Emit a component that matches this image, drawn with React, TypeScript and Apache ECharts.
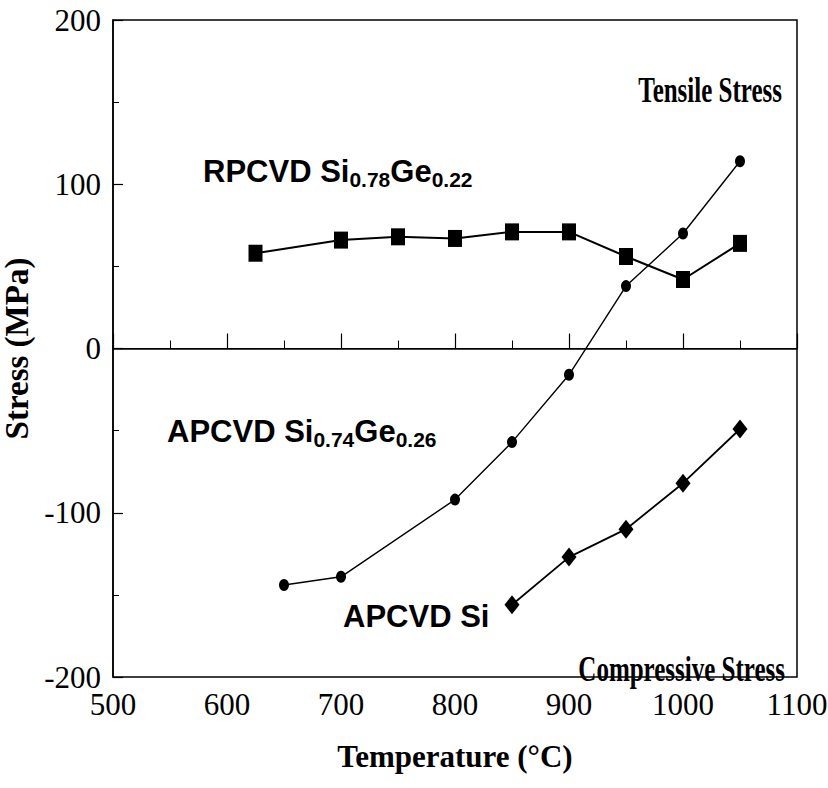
import React, { useEffect, useRef } from "react";
import * as echarts from "echarts";

const rpTemps = [625, 700, 750, 800, 850, 900, 950, 1000, 1050];
const rpStress = [58, 66, 68, 67, 71, 71, 56, 42, 64];
const sigeTemps = [650, 700, 800, 850, 900, 950, 1000, 1050];
const sigeStress = [-144, -139, -92, -57, -16, 38, 70, 114];
const siTemps = [850, 900, 950, 1000, 1050];
const siStress = [-156, -127, -110, -82, -49];

const xTicks = { min: 500, max: 1100, interval: 100 };
const yTicks = { min: -200, max: 200, interval: 100 };

const SERIF = "Liberation Serif";
const SANS = "Liberation Sans";

function pairs(xs: number[], ys: number[]) {
  return xs.map((x, i) => [x, ys[i]]);
}

function richLabel(main1: string, sub1: string, main2: string, sub2: string) {
  return `{m|${main1}}{s|${sub1}}{m|${main2}}{s|${sub2}}`;
}

const richStyles = {
  m: { fontFamily: SANS, fontWeight: "bold", fontSize: 31, fill: "#000", color: "#000", verticalAlign: "bottom", lineHeight: 36, padding: [0, 0, 3, 0] },
  s: { fontFamily: SANS, fontWeight: "bold", fontSize: 21, fill: "#000", color: "#000", verticalAlign: "bottom", lineHeight: 36 },
};

export default function App() {
  const ref = useRef<HTMLDivElement>(null);
  useEffect(() => {
    document.body.style.margin = "0";
    if (!ref.current) return;
    const chart = echarts.init(ref.current, null, { renderer: "svg" });
    chart.setOption({
      animation: false,
      backgroundColor: "#fff",
      textStyle: { fontFamily: "serif" },
      grid: {
        left: 113, right: 31, top: 20, bottom: 111,
        outerBoundsMode: "none",
        containLabel: false,
        show: true, borderColor: "#000", borderWidth: 1.5, backgroundColor: "transparent",
      },
      xAxis: {
        type: "value",
        min: xTicks.min,
        max: xTicks.max,
        interval: xTicks.interval,
        name: "Temperature (°C)",
        nameLocation: "middle",
        nameGap: 64,
        nameTextStyle: { fontFamily: SERIF, fontWeight: "bold", fontSize: 31, color: "#000" },
        axisLine: { show: true, lineStyle: { color: "#000", width: 1.5 } },
        axisTick: { inside: true, length: 15, lineStyle: { color: "#000", width: 1.2 } },
        minorTick: { show: true, splitNumber: 2, length: 8, lineStyle: { color: "#000", width: 1 } },
        axisLabel: {
          fontFamily: "serif", fontStyle: "normal", fontWeight: "normal",
          fontSize: 31, color: "#000", margin: 12,
          formatter: (v: number) => String(v),
        },
        splitLine: { show: false },
      },
      yAxis: {
        type: "value",
        min: yTicks.min,
        max: yTicks.max,
        interval: yTicks.interval,
        name: "Stress (MPa)",
        nameLocation: "middle",
        nameGap: 68,
        nameTextStyle: { fontFamily: SERIF, fontWeight: "bold", fontSize: 33, color: "#000" },
        axisLine: { show: true, lineStyle: { color: "#000", width: 1.5 } },
        axisTick: { inside: true, length: 10, lineStyle: { color: "#000", width: 1.2 } },
        minorTick: { show: true, splitNumber: 2, length: 6, lineStyle: { color: "#000", width: 1 } },
        axisLabel: {
          fontFamily: "Times New Roman", fontStyle: "normal", fontWeight: "normal",
          fontSize: 31, color: "#000", margin: 12,
          formatter: (v: number) => String(v),
        },
        splitLine: { show: false },
      },
      series: [
        {
          name: "RPCVD Si0.78Ge0.22",
          type: "line",
          data: pairs(rpTemps, rpStress),
          symbol: "rect",
          symbolSize: [14, 17],
          itemStyle: { color: "#000" },
          lineStyle: { color: "#000", width: 2 },
          markLine: {
            silent: true,
            symbol: "none",
            label: { show: false },
            lineStyle: { color: "#000", width: 1.2, type: "solid" },
            data: [{ yAxis: 0 }],
          },
        },
        {
          name: "APCVD Si0.74Ge0.26",
          type: "line",
          data: pairs(sigeTemps, sigeStress),
          symbol: "circle",
          symbolSize: [10, 12],
          itemStyle: { color: "#000" },
          lineStyle: { color: "#000", width: 1.4 },
        },
        {
          name: "APCVD Si",
          type: "line",
          data: pairs(siTemps, siStress),
          symbol: "diamond",
          symbolSize: [15, 19],
          itemStyle: { color: "#000" },
          lineStyle: { color: "#000", width: 1.8 },
        },
      ],
      graphic: [
        {
          type: "text",
          x: 203,
          y: 190,
          style: {
            text: richLabel("RPCVD Si", "0.78", "Ge", "0.22"),
            rich: richStyles,
            verticalAlign: "bottom",
            align: "left",
          },
        },
        {
          type: "text",
          x: 167,
          y: 450,
          style: {
            text: richLabel("APCVD Si", "0.74", "Ge", "0.26"),
            rich: richStyles,
            verticalAlign: "bottom",
            align: "left",
          },
        },
        {
          type: "text",
          x: 343,
          y: 635,
          style: {
            text: "{m|APCVD Si}",
            rich: richStyles,
            verticalAlign: "bottom",
            align: "left",
          },
        },
        {
          type: "text",
          x: 782,
          y: 73,
          scaleY: 1.4,
          style: {
            text: "Tensile Stress",
            font: `bold 25px ${SERIF}`,
            fill: "#000",
            align: "right",
            verticalAlign: "alphabetic",
          },
        },
        {
          type: "text",
          x: 785,
          y: 652,
          scaleY: 1.4,
          style: {
            text: "Compressive Stress",
            font: `bold 25px ${SERIF}`,
            fill: "#000",
            align: "right",
            verticalAlign: "alphabetic",
          },
        },
      ],
    });
    return () => chart.dispose();
  }, []);
  return <div ref={ref} style={{ width: 828, height: 788 }} />;
}
